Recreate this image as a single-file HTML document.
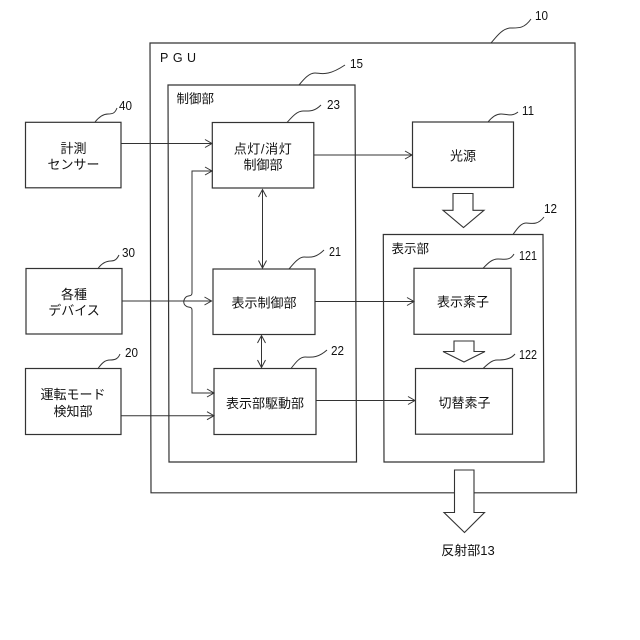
<!DOCTYPE html>
<html>
<head>
<meta charset="utf-8">
<style>
html,body{margin:0;padding:0;background:#fff;width:640px;height:640px;overflow:hidden}
svg{display:block}
text{font-family:"Liberation Sans","Noto Sans CJK JP",sans-serif;fill:#111}
.j{font-size:13px;text-anchor:middle}
.l{font-size:12.5px}
.n{font-size:13px}
.b{fill:#fff;stroke:#333;stroke-width:1.2}
.c{fill:none;stroke:#333;stroke-width:1}
.h{fill:none;stroke:#333;stroke-width:1}
.f{fill:#fff;stroke:#333;stroke-width:1.1}
</style>
</head>
<body>
<svg width="640" height="640" viewBox="0 0 640 640" xmlns="http://www.w3.org/2000/svg">
<!-- containers -->
<path class="b" d="M150 43H575L576.500 492.800H151Z"/>
<path class="b" d="M168 85H355L356.500 462H169Z"/>
<path class="b" d="M383.300 234.500H543L544 462H384Z"/>
<!-- boxes -->
<rect class="b" x="25.500" y="122.300" width="95.500" height="65.500"/>
<rect class="b" x="212.300" y="122.500" width="101.500" height="65.500"/>
<rect class="b" x="213" y="269" width="102" height="65.500"/>
<rect class="b" x="214" y="368.500" width="102" height="66"/>
<rect class="b" x="26" y="268.500" width="96" height="65.500"/>
<rect class="b" x="25.500" y="368.500" width="95.500" height="66"/>
<rect class="b" x="412.500" y="122" width="101" height="65.500"/>
<rect class="b" x="414" y="268.300" width="97" height="66"/>
<rect class="b" x="415.500" y="368.500" width="97" height="65.700"/>
<!-- connectors -->
<path class="c" d="M121 143.500H212"/>
<path class="h" d="M205 139.500L212 143.500L205 147.500"/>
<path class="c" d="M213 171H192V293C192 297 188 295 186 297C183 300 183 304 186 306C188 308 192 306 192 310V393H214"/>
<path class="h" d="M205 167L212 171L205 175"/>
<path class="h" d="M207 389L214 393L207 397"/>
<path class="c" d="M122 301H212"/>
<path class="h" d="M204.500 297L211.500 301L204.500 305"/>
<path class="c" d="M121 415.700H214"/>
<path class="h" d="M207 411.700L214 415.700L207 419.700"/>
<path class="c" d="M314 155H412"/>
<path class="h" d="M405 151L412 155L405 159"/>
<path class="c" d="M315 301.500H414"/>
<path class="h" d="M407 297.500L414 301.500L407 305.500"/>
<path class="c" d="M316 400.500H415"/>
<path class="h" d="M408 396.500L415 400.500L408 404.500"/>
<path class="c" d="M262.500 189.500V268"/>
<path class="h" d="M258.500 197L262.500 189.500L266.500 197M258.500 260.500L262.500 268L266.500 260.500"/>
<path class="c" d="M261.500 335.500V367.500"/>
<path class="h" d="M257.500 343L261.500 335.500L265.500 343M257.500 360L261.500 367.500L265.500 360"/>
<!-- hollow arrows -->
<path class="f" d="M453 193.500H473V210.300H484L463.500 227.500L443 210.300H453Z"/>
<path class="f" d="M454 341H474V351.500H485L464 362L443 351.500H454Z"/>
<path class="f" d="M454.500 470H474V512.500H484.500L464.500 532.500L444 512.500H454.500Z"/>
<!-- leaders -->
<path class="c" d="M95 122C99 117 103 114 108 114C113 114 115 113 117 108"/>
<path class="c" d="M287 122.500C292 117 297 111 303 111C309 111 314 112 321 105"/>
<path class="c" d="M299 85C304 79 309 73 315 73C321 73 327 77 345 65"/>
<path class="c" d="M491 43C497 36 502 29 510 28C518 28 524 29 531 19"/>
<path class="c" d="M98 268.500C102 263 106 261 111 261C115 261 117 259 119 255"/>
<path class="c" d="M98 368.500C102 363 105 360 110 360C115 360 118 359 120 354"/>
<path class="c" d="M289 269C294 263 299 257 304 257C309 257 315 259 324 250"/>
<path class="c" d="M291 368.500C296 362 300 357 305 357C310 357 317 359 327 350"/>
<path class="c" d="M488 122C492 117 496 114 501 114C506 114 512 117 518 112"/>
<path class="c" d="M513 234.500C517 229 521 223 526 223C531 223 537 226 544 217"/>
<path class="c" d="M483 268.300C488 263 492 259 498 259C504 259 510 261 514 254"/>
<path class="c" d="M483 368.500C488 364 492 360 497 360C502 360 510 360 515 354"/>
<!-- numbers -->
<text class="n" x="119" y="110" textLength="13" lengthAdjust="spacingAndGlyphs">40</text>
<text class="n" x="122" y="257" textLength="13" lengthAdjust="spacingAndGlyphs">30</text>
<text class="n" x="125" y="357" textLength="13" lengthAdjust="spacingAndGlyphs">20</text>
<text class="n" x="327" y="109" textLength="13" lengthAdjust="spacingAndGlyphs">23</text>
<text class="n" x="329" y="256" textLength="12" lengthAdjust="spacingAndGlyphs">21</text>
<text class="n" x="331" y="355" textLength="13" lengthAdjust="spacingAndGlyphs">22</text>
<text class="n" x="350" y="68" textLength="13" lengthAdjust="spacingAndGlyphs">15</text>
<text class="n" x="535" y="20" textLength="13" lengthAdjust="spacingAndGlyphs">10</text>
<text class="n" x="522" y="115" textLength="12" lengthAdjust="spacingAndGlyphs">11</text>
<text class="n" x="544" y="213" textLength="13" lengthAdjust="spacingAndGlyphs">12</text>
<text class="n" x="519" y="260" textLength="18" lengthAdjust="spacingAndGlyphs">121</text>
<text class="n" x="519" y="359" textLength="18" lengthAdjust="spacingAndGlyphs">122</text>
<!-- labels -->
<text x="160" y="62" font-size="12.500" letter-spacing="4.500">PGU</text>
<text class="l" x="176.500" y="103">制御部</text>
<text class="l" x="391.500" y="253">表示部</text>
<text class="j" x="73.500" y="153">計測</text>
<text class="j" x="73.500" y="169">センサー</text>
<text class="j" x="74" y="299">各種</text>
<text class="j" x="74" y="315">デバイス</text>
<text class="j" x="73" y="399">運転モード</text>
<text class="j" x="73" y="416">検知部</text>
<text class="j" x="263" y="153.500" letter-spacing="0.600">点灯/消灯</text>
<text class="j" x="263" y="169.500">制御部</text>
<text class="j" x="264" y="307.500">表示制御部</text>
<text class="j" x="265" y="408">表示部駆動部</text>
<text class="j" x="463" y="160.500">光源</text>
<text class="j" x="463" y="306.500">表示素子</text>
<text class="j" x="464.500" y="407.500">切替素子</text>
<text class="j" x="468" y="555">反射部13</text>
</svg>
</body>
</html>
